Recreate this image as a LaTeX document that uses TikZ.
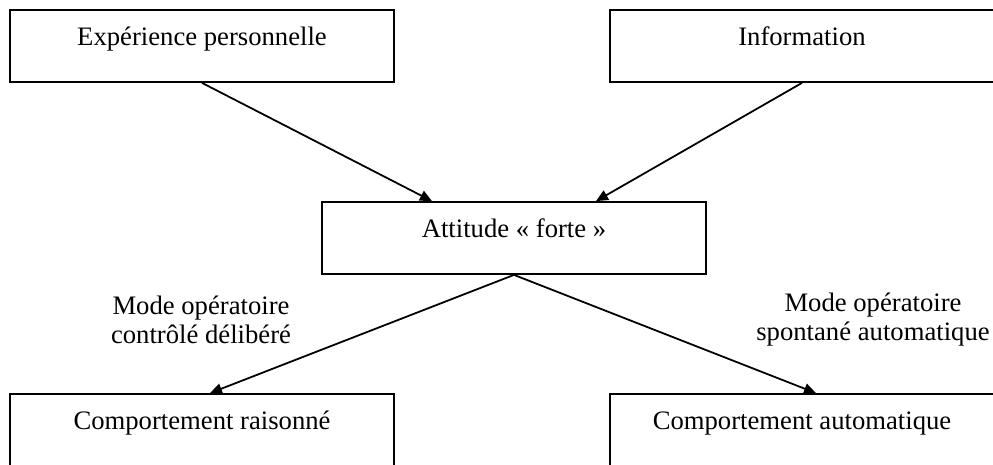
\documentclass[tikz,border=0pt]{standalone}
\usepackage{fontspec}
\setmainfont{Liberation Serif}
\usetikzlibrary{arrows.meta}

\begin{document}
\begin{tikzpicture}[x=0.45pt,y=-0.45pt]
% définition des paramètres
\tikzstyle boiteattitude=[draw=black,line width=0.8pt,rectangle,minimum width=172.8pt,minimum height=32.4pt,inner xsep=0pt,inner ysep=0pt,text height=15.75pt,text depth=16.65pt,font=\fontsize{12}{13.05}\selectfont]
\tikzstyle flecheattitude=[line width=0.8pt,-{Triangle[length=5.4pt,width=4.8pt]}]
\tikzstyle modeattitude=[align=center,inner sep=0pt,font=\fontsize{12}{13.05}\selectfont]
\newcommand{\colgauche}{202}  % abscisse des boîtes de gauche
\newcommand{\coldroite}{802}  % abscisse des boîtes de droite
\newcommand{\colmilieu}{514}  % abscisse de l'attitude
\newcommand{\lignehaut}{46}   % ordonnée des boîtes du haut
\newcommand{\lignemilieu}{238}
\newcommand{\lignebas}{430}

% le cadre
\useasboundingbox (0,0) rectangle (993,464);
\clip (0,0) rectangle (993,464);

% les boîtes
\node[boiteattitude] (experience) at (\colgauche,\lignehaut) {Expérience personnelle};
\node[boiteattitude] (information) at (\coldroite,\lignehaut) {Information};
\node[boiteattitude] (attitude) at (\colmilieu,\lignemilieu) {Attitude « forte »};
\node[boiteattitude] (raisonne) at (\colgauche,\lignebas) {Comportement raisonné};
\node[boiteattitude] (automatique) at (\coldroite,\lignebas) {Comportement automatique};

% les modes
\node[modeattitude] (modecontrole) at (201,320) {Mode opératoire\\contrôlé délibéré};
\node[modeattitude] (modespontane) at (873,320) {Mode opératoire\\spontané automatique};

% les flèches
\draw[flecheattitude] (experience.south) -- ([xshift=-36.9pt]attitude.north);
\draw[flecheattitude] (information.south) -- ([xshift=36.9pt]attitude.north);
\draw[flecheattitude] (attitude.south) -- ([xshift=3.6pt]raisonne.north);
\draw[flecheattitude] (attitude.south) -- ([xshift=6.3pt]automatique.north);
\end{tikzpicture}
\end{document}
